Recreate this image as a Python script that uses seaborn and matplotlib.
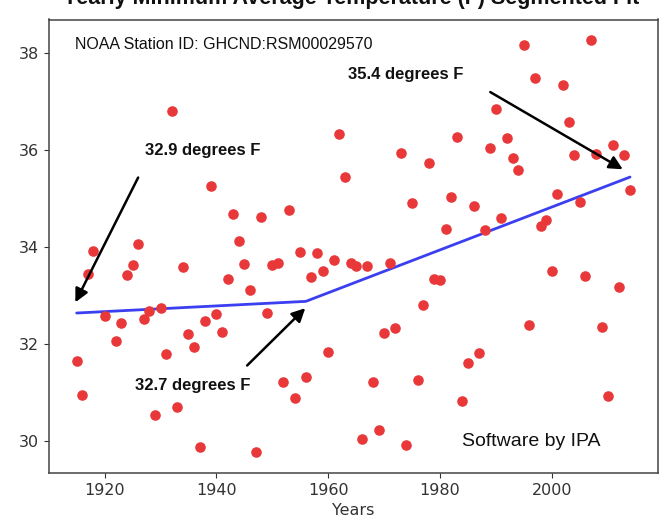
import matplotlib
matplotlib.use("Agg")
import matplotlib.pyplot as plt
import seaborn as sns
import pandas as pd

# ---------------- data ----------------
years = [1915, 1916, 1917, 1918, 1920, 1922, 1923, 1924, 1925, 1926,
         1927, 1928, 1929, 1930, 1931, 1932, 1933, 1934, 1935, 1936,
         1937, 1938, 1939, 1940, 1941, 1942, 1943, 1944, 1945, 1946,
         1947, 1948, 1949, 1950, 1951, 1952, 1953, 1954, 1955, 1956,
         1957, 1958, 1959, 1960, 1961, 1962, 1963, 1964, 1965, 1966,
         1967, 1968, 1969, 1970, 1971, 1972, 1973, 1974, 1975, 1976,
         1977, 1978, 1979, 1980, 1981, 1982, 1983, 1984, 1985, 1986,
         1987, 1988, 1989, 1990, 1991, 1992, 1993, 1994, 1995, 1996,
         1997, 1998, 1999, 2000, 2001, 2002, 2003, 2004, 2005, 2006,
         2007, 2008, 2009, 2010, 2011, 2012, 2013, 2014]

temps = [31.66, 30.95, 33.45, 33.92, 32.57, 32.07, 32.44, 33.42, 33.62, 34.06,
         32.52, 32.68, 30.55, 32.74, 31.79, 36.80, 30.70, 33.58, 32.20, 31.94,
         29.88, 32.48, 35.26, 32.61, 32.24, 33.34, 34.68, 34.13, 33.65, 33.12,
         29.77, 34.62, 32.64, 33.62, 33.66, 31.22, 34.77, 30.88, 33.90, 31.33,
         33.38, 33.88, 33.51, 31.83, 33.73, 36.32, 35.44, 33.68, 33.60, 30.05,
         33.61, 31.22, 30.24, 32.22, 33.67, 32.34, 35.94, 29.92, 34.90, 31.27,
         32.81, 35.73, 33.34, 33.32, 34.37, 35.03, 36.27, 30.82, 31.61, 34.85,
         31.82, 34.35, 36.03, 36.84, 34.59, 36.25, 35.83, 35.59, 38.15, 32.40,
         37.49, 34.44, 34.56, 33.50, 35.09, 37.34, 36.58, 35.90, 34.92, 33.40,
         38.26, 35.91, 32.35, 30.94, 36.10, 33.17, 35.89, 35.17]

# segmented fit (breakpoints)
fit_years = [1915, 1956, 2014]
fit_temps = [32.64, 32.88, 35.44]

x_ticks = [1920, 1940, 1960, 1980, 2000]
y_ticks = [30, 32, 34, 36, 38]

title_text = "Yearly Minimum Average Temperature (F) Segmented Fit"
station_text = "NOAA Station ID: GHCND:RSM00029570"
credit_text = "Software by IPA"
label_texts = ["32.9 degrees F", "32.7 degrees F", "35.4 degrees F"]

# ---------------- plotting ----------------
sns.set_style("ticks")
plt.rcParams["font.family"] = ["DejaVu Sans"]

df = pd.DataFrame({"Years": years, "Temp": temps})
fit_df = pd.DataFrame({"Years": fit_years, "Temp": fit_temps})

fig = plt.figure(figsize=(6.63, 5.27), dpi=100)
ax = fig.add_axes([49 / 663, 1 - 473 / 527, (657.7 - 49) / 663, (473 - 19.5) / 527])

sns.lineplot(data=fit_df, x="Years", y="Temp", color="#3b3ff0", lw=2.0, ax=ax, zorder=2)
sns.scatterplot(data=df, x="Years", y="Temp", color="#e8383a", s=58, linewidth=0,
                ax=ax, zorder=3)

for side in ["top", "right", "left", "bottom"]:
    ax.spines[side].set_visible(True)
    ax.spines[side].set_color("#444444")
    ax.spines[side].set_linewidth(1.1)

ax.set_xticks(x_ticks)
ax.set_yticks(y_ticks)
ax.tick_params(labelsize=11.5, colors="#333333")
ax.set_xlabel("Years", fontsize=11.5, color="#333333")
ax.set_ylabel("")

lab_font = dict(family=["Liberation Sans", "DejaVu Sans"], fontsize=12, fontweight="bold",
                color="#111111", va="center", ha="left")
ax.text(1927.3, 35.99, label_texts[0], **lab_font)
ax.text(1925.4, 31.15, label_texts[1], **lab_font)
ax.text(1963.6, 37.56, label_texts[2], **lab_font)

arrow = dict(arrowstyle="-|>", color="black", lw=1.8, mutation_scale=20,
             shrinkA=0, shrinkB=0)
ax.annotate("", xy=(1914.76, 32.86), xytext=(1926.0, 35.43), arrowprops=arrow)
ax.annotate("", xy=(1955.9, 32.74), xytext=(1945.5, 31.56), arrowprops=arrow)
ax.annotate("", xy=(2012.7, 35.60), xytext=(1989.0, 37.19), arrowprops=arrow)

ax.text(0.0427, 0.945, station_text, transform=ax.transAxes, ha="left", va="center",
        fontsize=11.5, family=["Liberation Sans", "DejaVu Sans"], color="#111111")
ax.text(0.678, 0.069, credit_text, transform=ax.transAxes, ha="left", va="center",
        fontsize=14, family=["Liberation Sans", "DejaVu Sans"], color="#111111")

fig.text(0.53, 1 - 4 / 527, title_text, ha="center", va="baseline", fontsize=15.5,
         fontweight="bold", family=["Liberation Sans", "DejaVu Sans"], color="#111111")

fig.savefig("out.png", dpi=100)
